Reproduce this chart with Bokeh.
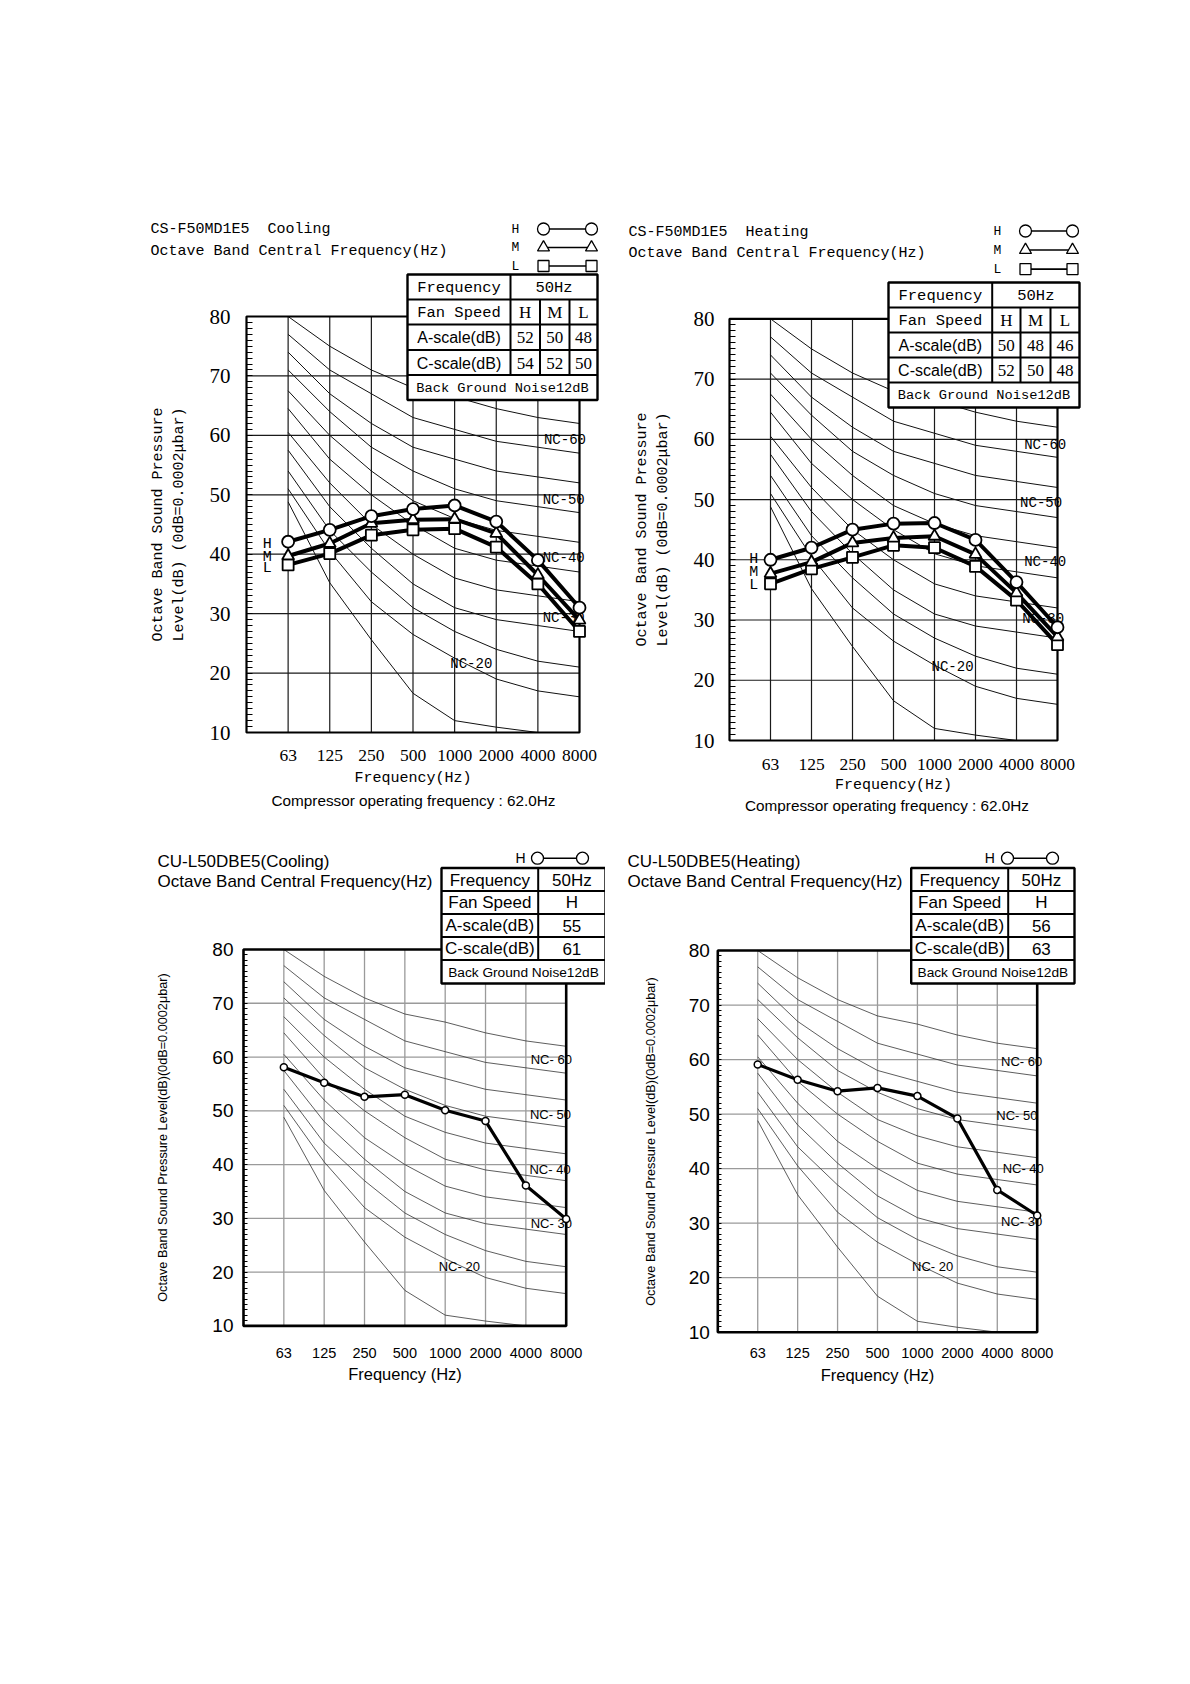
import numpy as np
from bokeh.plotting import figure
from bokeh.models import Range1d, LinearAxis, FixedTicker
from bokeh.layouts import row, column
from bokeh.embed import file_html
from bokeh.resources import INLINE
from bokeh.core.properties import value

# ---------------- data ----------------
OCTAVE_BANDS = ["63", "125", "250", "500", "1000", "2000", "4000", "8000"]
Y_TICKS = [10, 20, 30, 40, 50, 60, 70, 80]

NAN = float("nan")
NC_15 = [48.8, 35.2, 25.6, 16.6, 12.0, 10.9, 10.0, NAN]
NC_20 = [51.0, 40.5, 32.0, 26.5, 22.5, 19.0, 17.0, 16.0]
NC_25 = [54.0, 44.0, 37.0, 31.0, 27.0, 24.0, 22.0, 21.0]
NC_30 = [57.5, 48.0, 41.0, 35.0, 31.0, 29.0, 28.0, 27.0]
NC_35 = [60.5, 52.0, 45.0, 40.0, 36.0, 34.0, 33.0, 32.0]
NC_40 = [64.5, 56.0, 50.0, 45.0, 41.0, 39.0, 38.0, 37.0]
NC_45 = [67.5, 60.0, 54.0, 49.0, 46.0, 44.0, 43.0, 42.0]
NC_50 = [71.0, 64.0, 58.0, 54.0, 51.0, 49.0, 48.0, 47.0]
NC_55 = [74.0, 67.0, 62.0, 58.0, 56.0, 54.0, 53.0, 52.0]
NC_60 = [77.0, 71.0, 67.0, 63.0, 61.0, 59.0, 58.0, 57.0]
NC_65 = [80.0, 75.0, 71.0, 68.0, 66.5, 64.5, 63.0, 62.0]
NC_CURVES = [NC_15, NC_20, NC_25, NC_30, NC_35, NC_40, NC_45, NC_50, NC_55, NC_60, NC_65]
NC_LABEL_NAMES = ["60", "50", "40", "30", "20"]

INDOOR_COOLING_H = [42.1, 44.1, 46.4, 47.6, 48.2, 45.5, 39.0, 31.0]
INDOOR_COOLING_M = [39.7, 41.8, 45.2, 45.8, 45.9, 43.5, 36.5, 28.9]
INDOOR_COOLING_L = [38.2, 40.1, 43.2, 44.1, 44.3, 41.2, 35.0, 27.0]
INDOOR_HEATING_H = [40.0, 42.0, 45.0, 46.0, 46.1, 43.3, 36.3, 28.8]
INDOOR_HEATING_M = [37.7, 39.6, 42.8, 43.6, 43.9, 40.9, 34.5, 27.2]
INDOOR_HEATING_L = [36.0, 38.5, 40.4, 42.4, 42.0, 38.9, 33.3, 25.9]
OUTDOOR_COOLING_H = [58.1, 55.2, 52.6, 53.0, 50.1, 48.1, 36.1, 29.9]
OUTDOOR_HEATING_H = [59.1, 56.3, 54.2, 54.8, 53.3, 49.2, 36.1, 31.4]

TABLE_ROW_LABELS = ["Frequency", "Fan Speed", "A-scale(dB)", "C-scale(dB)"]
POWER_FREQ = "50Hz"
BACKGROUND_NOISE = "Back Ground Noise12dB"
INDOOR_FAN_SPEEDS = ["H", "M", "L"]
INDOOR_COOLING_A = ["52", "50", "48"]
INDOOR_COOLING_C = ["54", "52", "50"]
INDOOR_HEATING_A = ["50", "48", "46"]
INDOOR_HEATING_C = ["52", "50", "48"]
OUTDOOR_FAN_SPEEDS = ["H"]
OUTDOOR_COOLING_A = ["55"]
OUTDOOR_COOLING_C = ["61"]
OUTDOOR_HEATING_A = ["56"]
OUTDOOR_HEATING_C = ["63"]

COMPRESSOR_TEXT = "Compressor operating frequency : 62.0Hz"
X_IDX = list(range(len(OCTAVE_BANDS)))

MONO = "Liberation Mono"
SERIF = "Liberation Serif"
SANS = "Liberation Sans"

STYLE_INDOOR = dict(grid="#1a1a1a", grid_w=1.2, nc="#111111", nc_w=1.0, box_w=2.2,
                    minor_in=6, ytick_font=SERIF, ytick_size="21px", xtick_font=SERIF,
                    xtick_size="17.5px", label_font=MONO, label_size="15px",
                    nc_font=MONO, nc_size="14px", nc_prefix="NC-", data_w=4.0,
                    title_font=MONO, title_size="15px")
STYLE_OUTDOOR = dict(grid="#9a9a9a", grid_w=1.3, nc="#333333", nc_w=0.8, box_w=2.6,
                     minor_in=4, ytick_font=SANS, ytick_size="19px", xtick_font=SANS,
                     xtick_size="14.5px", label_font=SANS, label_size="16.5px",
                     nc_font=SANS, nc_size="13px", nc_prefix="NC- ", data_w=3.2,
                     title_font=SANS, title_size="17px")


def ptext(p, x, y, txt, font, size, align="center", angle=0.0):
    p.text(x=[x], y=[y], text=[txt], x_range_name="px", y_range_name="px",
           text_font=value(font), text_font_size=size, text_align=align,
           text_baseline="middle", text_color="black", angle=angle)


def pseg(p, x0, y0, x1, y1, w=2.0):
    p.segment(x0=[x0], y0=[y0], x1=[x1], y1=[y1], x_range_name="px",
              y_range_name="px", line_color="black", line_width=w)


def make_panel(cfg):
    st = cfg["style"]
    fx, fy, fw, fh = cfg["fig"]
    XL, XR, YT, YB = cfg["box"]
    sx = (XR - XL) / 8.0
    sy = (YB - YT) / 70.0
    x0 = -1 - (XL - fx) / sx
    y0 = 10 - (fy + fh - YB) / sy
    p = figure(width=fw, height=fh, x_range=Range1d(x0, x0 + fw / sx),
               y_range=Range1d(y0, y0 + fh / sy), x_axis_type=None, y_axis_type=None,
               toolbar_location=None, output_backend="svg", min_border=0, title=None)
    p.extra_x_ranges = {"px": Range1d(fx, fx + fw)}
    p.extra_y_ranges = {"px": Range1d(fy + fh, fy)}
    p.outline_line_color = None
    p.background_fill_color = "white"
    p.border_fill_color = "white"

    # grid lines
    vx = X_IDX[:-1]
    p.segment(x0=vx, y0=[Y_TICKS[0]] * len(vx), x1=vx, y1=[Y_TICKS[-1]] * len(vx),
              line_color=st["grid"], line_width=st["grid_w"])
    hy = Y_TICKS[1:-1]
    p.segment(x0=[-1] * len(hy), y0=hy, x1=[X_IDX[-1]] * len(hy), y1=hy,
              line_color=st["grid"], line_width=st["grid_w"])

    # NC curves
    p.multi_line(xs=[np.array(X_IDX, dtype=float) for _ in NC_CURVES],
                 ys=[np.array(c, dtype=float) for c in NC_CURVES],
                 line_color=st["nc"], line_width=st["nc_w"])
    for name, (lx, ly) in zip(NC_LABEL_NAMES, cfg["nc_pos"]):
        p.text(x=[lx], y=[ly], text=[st["nc_prefix"] + name], text_font=value(st["nc_font"]),
               text_font_size=st["nc_size"], text_align="center", text_baseline="middle",
               text_color="black")

    # plot box
    p.quad(left=[-1], right=[X_IDX[-1]], bottom=[Y_TICKS[0]], top=[Y_TICKS[-1]],
           fill_color=None, line_color="black", line_width=st["box_w"])

    # axes
    yax = LinearAxis(fixed_location=-1, bounds=(Y_TICKS[0], Y_TICKS[-1]),
                     ticker=FixedTicker(ticks=Y_TICKS, minor_ticks=list(range(10, 81))))
    yax.axis_line_color = None
    yax.major_tick_in = 0
    yax.major_tick_out = 0
    yax.minor_tick_in = st["minor_in"]
    yax.minor_tick_out = 0
    yax.minor_tick_line_color = "black"
    yax.minor_tick_line_width = 1
    yax.major_label_standoff = cfg["ytick_standoff"]
    yax.major_label_text_font = st["ytick_font"]
    yax.major_label_text_font_size = st["ytick_size"]
    yax.major_label_text_color = "black"
    yax.axis_label = cfg["ylabel"]
    yax.axis_label_standoff = cfg["ylabel_standoff"]
    yax.axis_label_text_font = st["label_font"]
    yax.axis_label_text_font_size = cfg["ylabel_size"]
    yax.axis_label_text_font_style = "normal"
    yax.axis_label_text_color = "black"
    p.add_layout(yax, "left")

    xax = LinearAxis(fixed_location=Y_TICKS[0], bounds=(-1, X_IDX[-1]),
                     ticker=FixedTicker(ticks=X_IDX, minor_ticks=[]))
    xax.major_label_overrides = {i: b for i, b in zip(X_IDX, OCTAVE_BANDS)}
    xax.axis_line_color = None
    xax.major_tick_in = 0
    xax.major_tick_out = 0
    xax.minor_tick_in = 0
    xax.minor_tick_out = 0
    xax.major_label_standoff = cfg["xtick_standoff"]
    xax.major_label_text_font = st["xtick_font"]
    xax.major_label_text_font_size = st["xtick_size"]
    xax.major_label_text_color = "black"
    xax.axis_label = cfg["xlabel"]
    xax.axis_label_standoff = cfg["xlabel_standoff"]
    xax.axis_label_text_font = st["label_font"]
    xax.axis_label_text_font_size = st["label_size"]
    xax.axis_label_text_font_style = "normal"
    xax.axis_label_text_color = "black"
    p.add_layout(xax, "below")

    # H/M/L side labels
    if cfg.get("hml"):
        hx, hys = cfg["hml"]
        for letter, hyv in zip(INDOOR_FAN_SPEEDS, hys):
            p.text(x=[hx], y=[hyv], text=[letter], text_font=value(MONO), text_font_size="15px",
                   text_align="center", text_baseline="middle", text_color="black")

    # data
    for vals, _m, _s in cfg["series"]:
        p.line(x=X_IDX, y=vals, line_color="black", line_width=st["data_w"])
    for vals, m, s in cfg["series"]:
        p.scatter(x=X_IDX, y=vals, marker=m, size=s, fill_color="white",
                  line_color="black", line_width=cfg["mk_w"])

    # titles
    tx, ty1, ty2 = cfg["title_pos"]
    ptext(p, tx, ty1, cfg["title"], st["title_font"], st["title_size"], align="left")
    ptext(p, tx, ty2, "Octave Band Central Frequency(Hz)", st["title_font"], st["title_size"], align="left")

    # legend
    lx, lys, mx0, mx1 = cfg["legend"]
    for (letter, m, s), ly in zip(cfg["legend_items"], lys):
        ptext(p, lx, ly, letter, st["label_font"], cfg["legend_size"])
        pseg(p, mx0, ly, mx1, ly, 1.6)
        p.scatter(x=[mx0, mx1], y=[ly, ly], x_range_name="px", y_range_name="px",
                  marker=m, size=s, fill_color="white", line_color="black", line_width=1.3)

    # table
    xs, ys = cfg["table_x"], cfg["table_y"]
    p.quad(left=[xs[0]], right=[xs[-1]], top=[ys[0]], bottom=[ys[-1]],
           x_range_name="px", y_range_name="px", fill_color="white", line_color=None)
    for yy in ys[1:-1]:
        pseg(p, xs[0], yy, xs[-1], yy, 2.0)
    pseg(p, xs[1], ys[0], xs[1], ys[4], 2.0)
    for xx in xs[2:-1]:
        pseg(p, xx, ys[1], xx, ys[4], 2.0)
    p.quad(left=[xs[0]], right=[xs[-1]], top=[ys[0]], bottom=[ys[-1]],
           x_range_name="px", y_range_name="px", fill_color=None, line_color="black",
           line_width=2.4)
    tf = cfg["table_fonts"]
    c0 = (xs[0] + xs[1]) / 2
    rows_mid = [(ys[i] + ys[i + 1]) / 2 for i in range(5)]
    for i, lab in enumerate(TABLE_ROW_LABELS):
        f, sz = tf["label"][i]
        ptext(p, c0, rows_mid[i] + 0.5, lab, f, sz)
    ptext(p, (xs[1] + xs[-1]) / 2, rows_mid[0] + 0.5, POWER_FREQ, tf["freq"][0], tf["freq"][1])
    for j, (spd, a, c) in enumerate(zip(cfg["speeds"], cfg["a_vals"], cfg["c_vals"])):
        cx = (xs[1 + j] + xs[2 + j]) / 2
        ptext(p, cx, rows_mid[1] + 0.5, spd, tf["speed"][0], tf["speed"][1])
        ptext(p, cx, rows_mid[2] + 0.5, a, tf["num"][0], tf["num"][1])
        ptext(p, cx, rows_mid[3] + 0.5, c, tf["num"][0], tf["num"][1])
    ptext(p, (xs[0] + xs[-1]) / 2, rows_mid[4] + 0.5, BACKGROUND_NOISE, tf["bg"][0], tf["bg"][1])

    if cfg.get("compressor"):
        cx, cy = cfg["compressor"]
        ptext(p, cx, cy, COMPRESSOR_TEXT, SANS, "15.3px")
    return p


INDOOR_TABLE_FONTS = dict(label=[(MONO, "15.5px"), (MONO, "15.5px"), (SANS, "16px"), (SANS, "16px")],
                          freq=(MONO, "15.5px"), speed=(SERIF, "17px"), num=(SERIF, "17px"),
                          bg=(MONO, "13.7px"))
OUTDOOR_TABLE_FONTS = dict(label=[(SANS, "17px")] * 4, freq=(SANS, "17px"), speed=(SANS, "17px"),
                           num=(SANS, "17px"), bg=(SANS, "13.7px"))

Y_LABEL_INDOOR = "Octave Band Sound Pressure\nLevel(dB) (0dB=0.0002\u03bcbar)"
Y_LABEL_OUTDOOR = "Octave Band Sound Pressure Level(dB)(0dB=0.0002\u03bcbar)"
INDOOR_LEGEND = [("H", "circle", 12), ("M", "triangle", 12), ("L", "square", 11)]
OUTDOOR_LEGEND = [("H", "circle", 12)]

cfg1 = dict(style=STYLE_INDOOR, fig=(0, 0, 605, 830), box=(246, 579, 316, 732),
            title="CS-F50MD1E5\u00a0 Cooling", title_pos=(150, 228.5, 250.5),
            legend=(515, [228.5, 247, 265.5], 543, 591), legend_items=INDOOR_LEGEND, legend_size="13px",
            table_x=[407, 510, 539.5, 569, 597], table_y=[274, 299, 324, 349.5, 374.5, 399.5],
            table_fonts=INDOOR_TABLE_FONTS, speeds=INDOOR_FAN_SPEEDS,
            a_vals=INDOOR_COOLING_A, c_vals=INDOOR_COOLING_C,
            nc_pos=[(6.65, 59.2), (6.62, 49.2), (6.62, 39.3), (6.62, 29.2), (4.4, 21.5)],
            hml=(-0.5, [41.7, 39.5, 37.6]), compressor=(413, 800),
            ytick_standoff=16, ylabel=Y_LABEL_INDOOR, ylabel_standoff=19, ylabel_size="15px",
            xtick_standoff=17, xlabel="Frequency(Hz)", xlabel_standoff=6,
            series=[(INDOOR_COOLING_L, "square", 11), (INDOOR_COOLING_M, "triangle", 12),
                    (INDOOR_COOLING_H, "circle", 12)], mk_w=1.8)

cfg2 = dict(style=STYLE_INDOOR, fig=(605, 0, 573, 830), box=(729, 1057, 318.3, 740),
            title="CS-F50MD1E5\u00a0 Heating", title_pos=(628, 231.7, 252.7),
            legend=(997, [230.5, 249.5, 268.6], 1025, 1072), legend_items=INDOOR_LEGEND, legend_size="13px",
            table_x=[888, 991.7, 1020, 1050, 1079], table_y=[282, 307, 332, 357, 382, 407],
            table_fonts=INDOOR_TABLE_FONTS, speeds=INDOOR_FAN_SPEEDS,
            a_vals=INDOOR_HEATING_A, c_vals=INDOOR_HEATING_C,
            nc_pos=[(6.7, 59.1), (6.6, 49.4), (6.7, 39.7), (6.65, 30.2), (4.44, 22.2)],
            hml=(-0.41, [40.0, 37.9, 35.8]), compressor=(886.5, 805),
            ytick_standoff=15, ylabel=Y_LABEL_INDOOR, ylabel_standoff=19, ylabel_size="15px",
            xtick_standoff=18, xlabel="Frequency(Hz)", xlabel_standoff=4,
            series=[(INDOOR_HEATING_L, "square", 11), (INDOOR_HEATING_M, "triangle", 12),
                    (INDOOR_HEATING_H, "circle", 12)], mk_w=1.8)

cfg3 = dict(style=STYLE_OUTDOOR, fig=(0, 830, 605, 838), box=(243, 565.7, 949, 1325.4),
            title="CU-L50DBE5(Cooling)", title_pos=(157, 861, 880.6),
            legend=(520, [857.7], 537, 582), legend_items=OUTDOOR_LEGEND, legend_size="14px",
            table_x=[441, 537.7, 605], table_y=[867.5, 890.5, 913.4, 936.4, 959.4, 983],
            table_fonts=OUTDOOR_TABLE_FONTS, speeds=OUTDOOR_FAN_SPEEDS,
            a_vals=OUTDOOR_COOLING_A, c_vals=OUTDOOR_COOLING_C,
            nc_pos=[(6.63, 59.5), (6.61, 49.3), (6.6, 39.0), (6.63, 29.1), (4.35, 21.0)],
            hml=None, compressor=None,
            ytick_standoff=10, ylabel=Y_LABEL_OUTDOOR, ylabel_standoff=39, ylabel_size="12.7px",
            xtick_standoff=22, xlabel="Frequency (Hz)", xlabel_standoff=4,
            series=[(OUTDOOR_COOLING_H, "circle", 7)], mk_w=1.5)

cfg4 = dict(style=STYLE_OUTDOOR, fig=(605, 830, 573, 838), box=(717.3, 1036.7, 950, 1331.7),
            title="CU-L50DBE5(Heating)", title_pos=(627, 861, 880.6),
            legend=(989.3, [857.7], 1007, 1052), legend_items=OUTDOOR_LEGEND, legend_size="14px",
            table_x=[910.7, 1007.7, 1074], table_y=[867.5, 890.5, 913.4, 936.4, 959.4, 983],
            table_fonts=OUTDOOR_TABLE_FONTS, speeds=OUTDOOR_FAN_SPEEDS,
            a_vals=OUTDOOR_HEATING_A, c_vals=OUTDOOR_HEATING_C,
            nc_pos=[(6.61, 59.6), (6.49, 49.7), (6.65, 40.1), (6.61, 30.3), (4.38, 22.1)],
            hml=None, compressor=None,
            ytick_standoff=8, ylabel=Y_LABEL_OUTDOOR, ylabel_standoff=27, ylabel_size="12.7px",
            xtick_standoff=16, xlabel="Frequency (Hz)", xlabel_standoff=4,
            series=[(OUTDOOR_HEATING_H, "circle", 7)], mk_w=1.5)

p1 = make_panel(cfg1)
p2 = make_panel(cfg2)
p3 = make_panel(cfg3)
p4 = make_panel(cfg4)

layout = column(row(p1, p2, spacing=0), row(p3, p4, spacing=0), spacing=0)
open("out.html", "w").write(file_html(layout, INLINE))
